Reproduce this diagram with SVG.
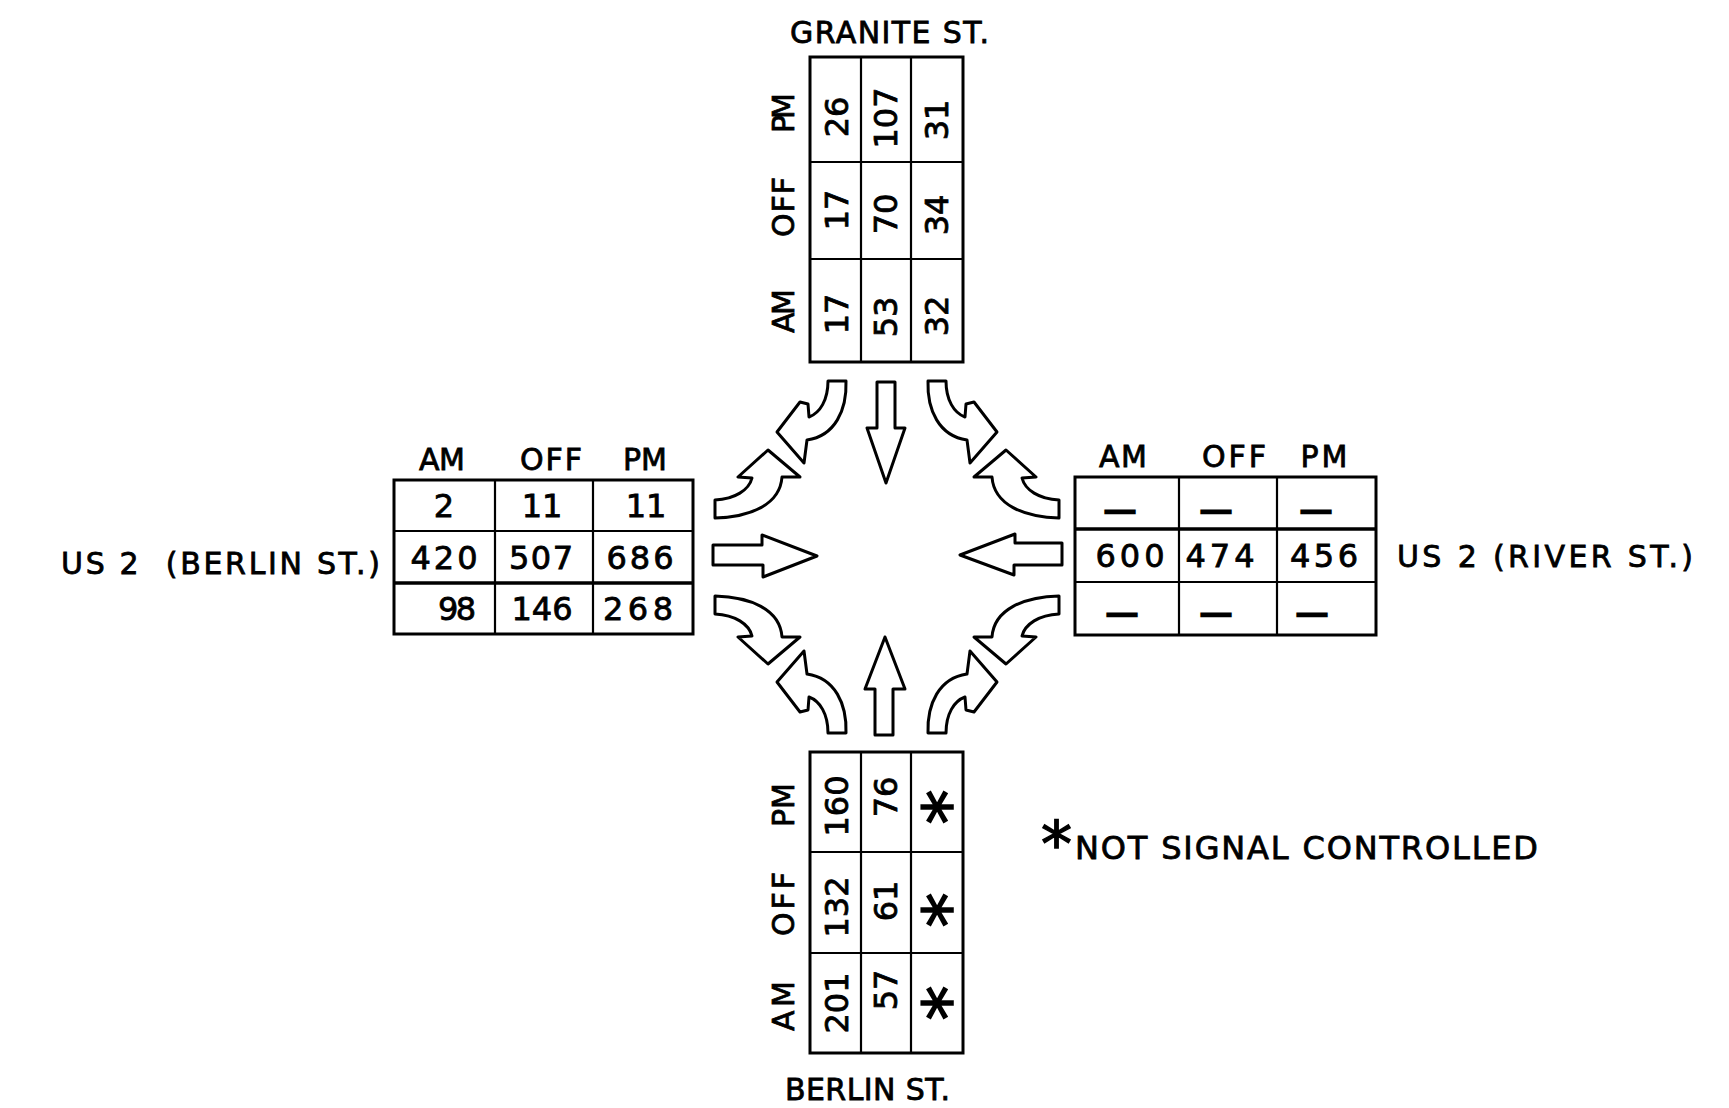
<svg xmlns="http://www.w3.org/2000/svg" width="1729" height="1108" viewBox="0 0 1729 1108">
<style>
text { font-family: "DejaVu Sans", "Liberation Sans", sans-serif; fill: #000; stroke: #000; stroke-width: 0.8; }
.n { font-size: 32px; text-anchor: middle; }
.h { font-size: 30px; text-anchor: middle; }
.s { font-size: 30px; }
.ast { font-size: 70px; text-anchor: middle; stroke-width: 1.6; }
.dash { font-size: 32px; text-anchor: middle; stroke: #000; stroke-width: 2.5; }
.box { fill: none; stroke: #000; stroke-width: 3; }
.ln { fill: none; stroke: #000; stroke-width: 2.2; }
.thick { fill: none; stroke: #000; stroke-width: 3.5; }
.arr { fill: #fff; stroke: #000; stroke-width: 3; stroke-linejoin: round; }
</style>
<defs>
<path id="turnA" d="M828,381 L846,381 C847,410 835,436 807,440 L804,463 L777,432 L800,402 L808,404 L809,417 C820,413 828,400 828,381 Z"/>
<path id="turnB" d="M715,500 L715,518 C750,517 780,505 782,477 L800,477 L768,450 L738,477 L752,478 C749,490 735,499 715,500 Z"/>
</defs>
<rect width="1729" height="1108" fill="#fff"/>

<g id="granite-st">
<text class="s" x="790" y="43" textLength="199">GRANITE ST.</text>
<rect class="box" x="810" y="57" width="153" height="305"/>
<path class="ln" d="M861,57V362M911,57V362M810,162H963M810,259H963"/>
<text class="h" transform="translate(794,113) rotate(-90)" textLength="40">PM</text>
<text class="h" transform="translate(794,207) rotate(-90)" textLength="60">OFF</text>
<text class="h" transform="translate(794,311) rotate(-90)" textLength="44">AM</text>
<text class="n" transform="translate(848,117) rotate(-90)">26</text>
<text class="n" transform="translate(848,210) rotate(-90)">17</text>
<text class="n" transform="translate(848,314) rotate(-90)">17</text>
<text class="n" transform="translate(897,118) rotate(-90)">107</text>
<text class="n" transform="translate(897,214) rotate(-90)">70</text>
<text class="n" transform="translate(897,317) rotate(-90)">53</text>
<text class="n" transform="translate(948,120) rotate(-90)">31</text>
<text class="n" transform="translate(948,215) rotate(-90)">34</text>
<text class="n" transform="translate(948,316) rotate(-90)">32</text>
</g>

<g id="berlin-st">
<rect class="box" x="810" y="752" width="153" height="301"/>
<path class="ln" d="M861,752V1053M911,752V1053M810,852H963M810,953H963"/>
<text class="h" transform="translate(794,805) rotate(-90)" textLength="44">PM</text>
<text class="h" transform="translate(794,904) rotate(-90)" textLength="64">OFF</text>
<text class="h" transform="translate(794,1006) rotate(-90)" textLength="50">AM</text>
<text class="n" transform="translate(848,806) rotate(-90)">160</text>
<text class="n" transform="translate(848,907) rotate(-90)">132</text>
<text class="n" transform="translate(848,1003) rotate(-90)">201</text>
<text class="n" transform="translate(897,797) rotate(-90)">76</text>
<text class="n" transform="translate(897,901) rotate(-90)">61</text>
<text class="n" transform="translate(897,990) rotate(-90)">57</text>
<text class="ast" transform="translate(973,807) rotate(-90)">*</text>
<text class="ast" transform="translate(973,910) rotate(-90)">*</text>
<text class="ast" transform="translate(973,1003) rotate(-90)">*</text>
<text class="s" x="785" y="1100" textLength="165">BERLIN ST.</text>
</g>

<g id="us2-berlin-st">
<text class="s" x="61" y="574" textLength="319" xml:space="preserve">US 2  (BERLIN ST.)</text>
<text class="h" x="442" y="470" textLength="46">AM</text>
<text class="h" x="551" y="470" textLength="62">OFF</text>
<text class="h" x="645" y="470" textLength="44">PM</text>
<rect class="box" x="394" y="480" width="299" height="154"/>
<path class="ln" d="M495,480V634M593,480V634M394,531H693"/>
<path class="thick" d="M394,583H693"/>
<text class="n" x="444" y="517">2</text>
<text class="n" x="542" y="517">11</text>
<text class="n" x="646" y="517">11</text>
<text class="n" x="444" y="569" textLength="67">420</text>
<text class="n" x="541" y="569" textLength="64">507</text>
<text class="n" x="640" y="569" textLength="67">686</text>
<text class="n" x="457" y="620" textLength="38">98</text>
<text class="n" x="542" y="620">146</text>
<text class="n" x="638" y="620" textLength="70">268</text>
</g>

<g id="us2-river-st">
<text class="h" x="1123" y="467" textLength="48">AM</text>
<text class="h" x="1234" y="467" textLength="64">OFF</text>
<text class="h" x="1324" y="467" textLength="47">PM</text>
<rect class="box" x="1075" y="477" width="301" height="158"/>
<path class="ln" d="M1179,477V635M1277,477V635M1075,582H1376"/>
<path class="thick" d="M1075,529H1376"/>
<text class="dash" x="1120" y="521">—</text>
<text class="dash" x="1216" y="521">—</text>
<text class="dash" x="1316" y="521">—</text>
<text class="n" x="1130" y="567" textLength="69">600</text>
<text class="n" x="1220" y="567" textLength="69">474</text>
<text class="n" x="1324" y="567" textLength="68">456</text>
<text class="dash" x="1122" y="624">—</text>
<text class="dash" x="1216" y="624">—</text>
<text class="dash" x="1312" y="624">—</text>
<text class="s" x="1397" y="567" textLength="296">US 2 (RIVER ST.)</text>
</g>

<g id="legend">
<text x="1041" y="866"><tspan style="font-size:62px;stroke-width:1.4">*</tspan><tspan x="1075" y="859" style="font-size:32px" textLength="463">NOT SIGNAL CONTROLLED</tspan></text>
</g>

<g id="connectors">
<path class="arr" d="M877,382 L895,382 L895,428 L905,428 L886,483 L867,428 L877,428 Z"/>
<path class="arr" d="M875,735 L893,735 L893,689 L905,689 L885,637 L865,689 L875,689 Z"/>
<path class="arr" d="M713,545 L762,545 L762,535 L817,556 L763,577 L763,565 L713,565 Z"/>
<path class="arr" d="M1062,543 L1015,543 L1015,534 L960,555 L1014,575 L1014,565 L1062,565 Z"/>
<use href="#turnA" class="arr"/>
<use href="#turnB" class="arr"/>
<use href="#turnA" class="arr" transform="translate(1774,0) scale(-1,1)"/>
<use href="#turnB" class="arr" transform="translate(1774,0) scale(-1,1)"/>
<use href="#turnA" class="arr" transform="translate(0,1114) scale(1,-1)"/>
<use href="#turnB" class="arr" transform="translate(0,1114) scale(1,-1)"/>
<use href="#turnA" class="arr" transform="translate(1774,1114) scale(-1,-1)"/>
<use href="#turnB" class="arr" transform="translate(1774,1114) scale(-1,-1)"/>
</g>
</svg>
